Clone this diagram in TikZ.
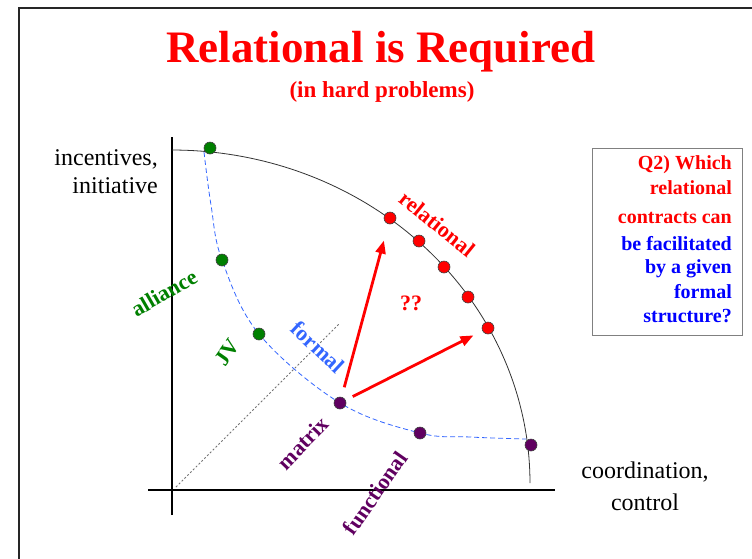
\documentclass[tikz,border=0pt]{standalone}
\usepackage{fontspec}
\setmainfont{Liberation Serif}
\usetikzlibrary{arrows.meta}
\definecolor{ttred}{RGB}{255,0,0}
\definecolor{ttgreen}{RGB}{0,128,0}
\definecolor{ttpurple}{RGB}{96,0,96}
\definecolor{ttblue}{RGB}{51,102,255}
\definecolor{ttdblue}{RGB}{0,0,255}
\begin{document}
\begin{tikzpicture}[x=1pt,y=-1pt,
  dot/.style={circle,draw=black!75,line width=0.6pt,inner sep=0pt,minimum size=12pt},
  reddot/.style={dot,fill=ttred},
  greendot/.style={dot,fill=ttgreen},
  purpledot/.style={dot,fill=ttpurple},
  lab/.style={font=\bfseries\fontsize{22}{22}\selectfont,inner sep=0pt},
  axisline/.style={line width=2.2pt,black},
  redarrow/.style={ttred,line width=2.8pt,-{Triangle[length=13pt,width=10pt]}},
  plain/.style={font=\fontsize{24}{24}\selectfont,inner sep=0pt},
  boxtext/.style={font=\bfseries\fontsize{20}{20}\selectfont,inner sep=0pt,anchor=base east}]

\useasboundingbox (0,0) rectangle (752,558);
\fill[white] (0,0) rectangle (752,558);
% slide frame
\draw[line width=2pt,black!85] (19,580) -- (19,8) -- (780,8);

% title
\node[anchor=base,text=ttred,font=\bfseries\fontsize{45}{45}\selectfont,inner sep=0pt] (title) at (381,62) {Relational is Required};
\node[anchor=base,text=ttred,font=\bfseries\fontsize{23}{23}\selectfont,inner sep=0pt] (sub) at (382,97) {(in hard problems)};

% axes
\coordinate (yt) at (172,137);
\coordinate (yb) at (172,515);
\coordinate (xl) at (148,490);
\coordinate (xr) at (555,490);
\draw[axisline] (yb) -- (yt);
\draw[axisline] (xl) -- (xr);

% diagonal
\coordinate (d0) at (176,487);
\coordinate (d1) at (339,324);
\draw[black!55,line width=0.8pt,dash pattern=on 2pt off 2pt] (d0) -- (d1);

% frontier
\draw[black!80,line width=0.8pt] plot[domain=0:90,samples=80] ({172+358*cos(\x)},{483-333*sin(\x)});

% dots positions
\coordinate (g1c) at (210,148);
\coordinate (g2c) at (222,260);
\coordinate (g3c) at (259,334);
\coordinate (p1c) at (340,403);
\coordinate (p2c) at (420,433);
\coordinate (p3c) at (531,445);

% formal (dashed) frontier
\draw[ttblue,line width=0.8pt,dash pattern=on 5pt off 3pt] plot[smooth,tension=0.6] coordinates {(204,152) (211,205) (g2c) (g3c) (p1c) (p2c) (470,437) (526,439)};

% dots
\node[greendot] (g1) at (g1c) {};
\node[greendot] (g2) at (g2c) {};
\node[greendot] (g3) at (g3c) {};
\node[purpledot] (p1) at (p1c) {};
\node[purpledot] (p2) at (p2c) {};
\node[purpledot] (p3) at (p3c) {};
\node[reddot] (r1) at (390,218) {};
\node[reddot] (r2) at (419,241) {};
\node[reddot] (r3) at (444,267) {};
\node[reddot] (r4) at (468,297) {};
\node[reddot] (r5) at (488,328) {};

% arrows
\draw[redarrow,shorten <=10pt,shorten >=17pt] (p1) -- (r1);
\draw[redarrow,shorten <=8pt,shorten >=10pt] (p1) -- (r5);

% labels
\node[lab,text=ttred,rotate=-39] (lrel) at (437,224) {relational};
\node[lab,text=ttred] (lq) at (411,303) {??};
\node[lab,text=ttgreen,rotate=30] (lall) at (164,293) {alliance};
\node[lab,text=ttgreen,rotate=55] (ljv) at (227,352) {JV};
\node[lab,text=ttblue,rotate=-43] (lfor) at (318,347) {formal};
\node[lab,text=ttpurple,rotate=46] (lmat) at (303,443) {matrix};
\node[lab,text=ttpurple,rotate=55] (lfun) at (375,493) {functional};

% axis labels
\node[plain,anchor=base east] (inc1) at (158,165) {incentives,};
\node[plain,anchor=base east] (inc2) at (158,193) {initiative};
\node[plain,anchor=base] (coo1) at (645,478) {coordination,};
\node[plain,anchor=base] (coo2) at (645,510) {control};

% Q2 box
\draw[black!50,line width=0.9pt] (592,148) rectangle (742,335);
\node[boxtext,text=ttred] (q1) at (732,169) {Q2) Which};
\node[boxtext,text=ttred] (q2) at (732,194) {relational};
\node[boxtext,text=ttred] (q3) at (732,223) {contracts can};
\node[boxtext,text=ttdblue] (q4) at (732,250) {be facilitated};
\node[boxtext,text=ttdblue] (q5) at (732,273) {by a given};
\node[boxtext,text=ttdblue] (q6) at (732,298) {formal};
\node[boxtext,text=ttdblue] (q7) at (732,322) {structure?};
\end{tikzpicture}
\end{document}
